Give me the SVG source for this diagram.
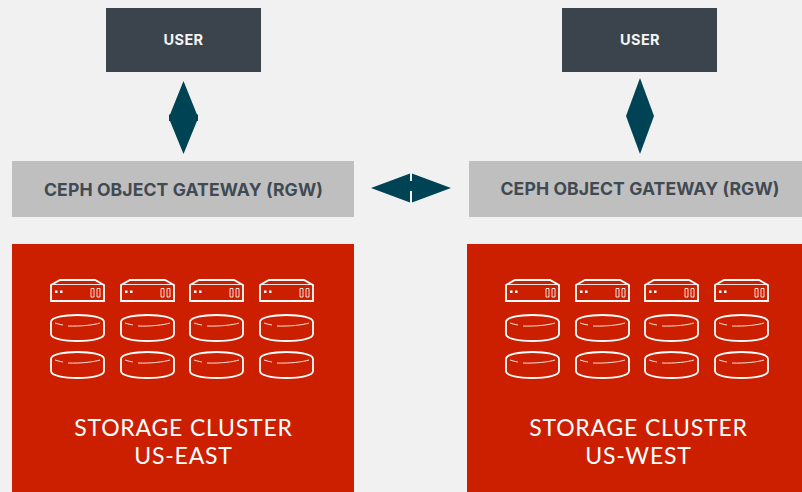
<svg xmlns="http://www.w3.org/2000/svg" xmlns:xlink="http://www.w3.org/1999/xlink" width="802" height="492" viewBox="0 0 802 492">
<style>
.user{fill:#3b444c}
.gw{fill:#bfbfbf}
.cl{fill:#cc1f00}
.t1{font:700 14.5px "Inter","Liberation Sans",sans-serif;fill:#f4f4f4;text-anchor:middle;letter-spacing:.4px}
.t2{font:700 17.6px "Inter","Liberation Sans",sans-serif;fill:#414a52;text-anchor:middle;letter-spacing:.1px}
.t3{font:400 23px "Lato","Liberation Sans",sans-serif;fill:#fff;text-anchor:middle;letter-spacing:.8px}
.i{fill:none;stroke:#fff;stroke-width:1.8}
.n{fill:none;stroke:#fff;stroke-width:1;opacity:.85}
.c{fill:#004354}
</style>
<defs>
<g id="server">
<path class="i" d="M1 22V6L10 1H45L54 6V22Z"/>
<path class="n" d="M1 5.500H54"/>
<path d="M5 11.500h2.500v2.500h-2.500zM10 11.500h2.500v2.500h-2.500z" fill="#fff"/>
<path class="n" d="M41 9.500h3v8.500h-3zM47 9.500h3v8.500h-3z"/>
</g>
<g id="disk">
<path class="i" d="M1 8C1 3 15 1 27.500 1S54 3 54 8V20C54 25 40 27 27.500 27S1 25 1 20Z"/>
<path class="n" d="M5 9C8 10 10 10.500 13 11M18 12C30 12.500 44 11 50 9"/>
</g>
<g id="rack">
<use xlink:href="#server" x="0" y="0"/><use xlink:href="#server" x="70" y="0"/><use xlink:href="#server" x="139" y="0"/><use xlink:href="#server" x="209" y="0"/>
<use xlink:href="#disk" x="0" y="35"/><use xlink:href="#disk" x="70" y="35"/><use xlink:href="#disk" x="139" y="35"/><use xlink:href="#disk" x="209" y="35"/>
<use xlink:href="#disk" x="0" y="72"/><use xlink:href="#disk" x="70" y="72"/><use xlink:href="#disk" x="139" y="72"/><use xlink:href="#disk" x="209" y="72"/>
</g>
</defs>
<rect width="802" height="492" fill="#f1f1f1"/>
<g id="connectors">
<path class="c" d="M183.500 81L197 114.500H198V121H197L183.500 154L170 121H169V114.500H170Z"/>
<path class="c" d="M640 78L654 116L640 154L626 116Z"/>
<path class="c" d="M371 188L410 173.500V181H412V173.500L451 188L412 202.500V191H410V202.500Z"/>
</g>
<g id="user-east"><rect class="user" x="106" y="8" width="155" height="64"/><text class="t1" x="183.500" y="45">USER</text></g>
<g id="user-west"><rect class="user" x="562" y="8" width="155" height="64"/><text class="t1" x="640" y="45">USER</text></g>
<g id="gateway-east"><rect class="gw" x="12" y="161" width="342" height="56"/><text class="t2" x="183.500" y="196">CEPH OBJECT GATEWAY (RGW)</text></g>
<g id="gateway-west"><rect class="gw" x="469" y="161" width="333" height="56"/><text class="t2" x="640" y="195">CEPH OBJECT GATEWAY (RGW)</text></g>
<g id="cluster-east"><rect class="cl" x="12" y="244" width="342" height="248"/><use xlink:href="#rack" x="50" y="279"/><text class="t3" x="183.500" y="436">STORAGE CLUSTER</text><text class="t3" x="183.500" y="464">US-EAST</text></g>
<g id="cluster-west"><rect class="cl" x="467" y="244" width="335" height="248"/><use xlink:href="#rack" x="505" y="279"/><text class="t3" x="638.500" y="436">STORAGE CLUSTER</text><text class="t3" x="638.500" y="464">US-WEST</text></g>
</svg>
